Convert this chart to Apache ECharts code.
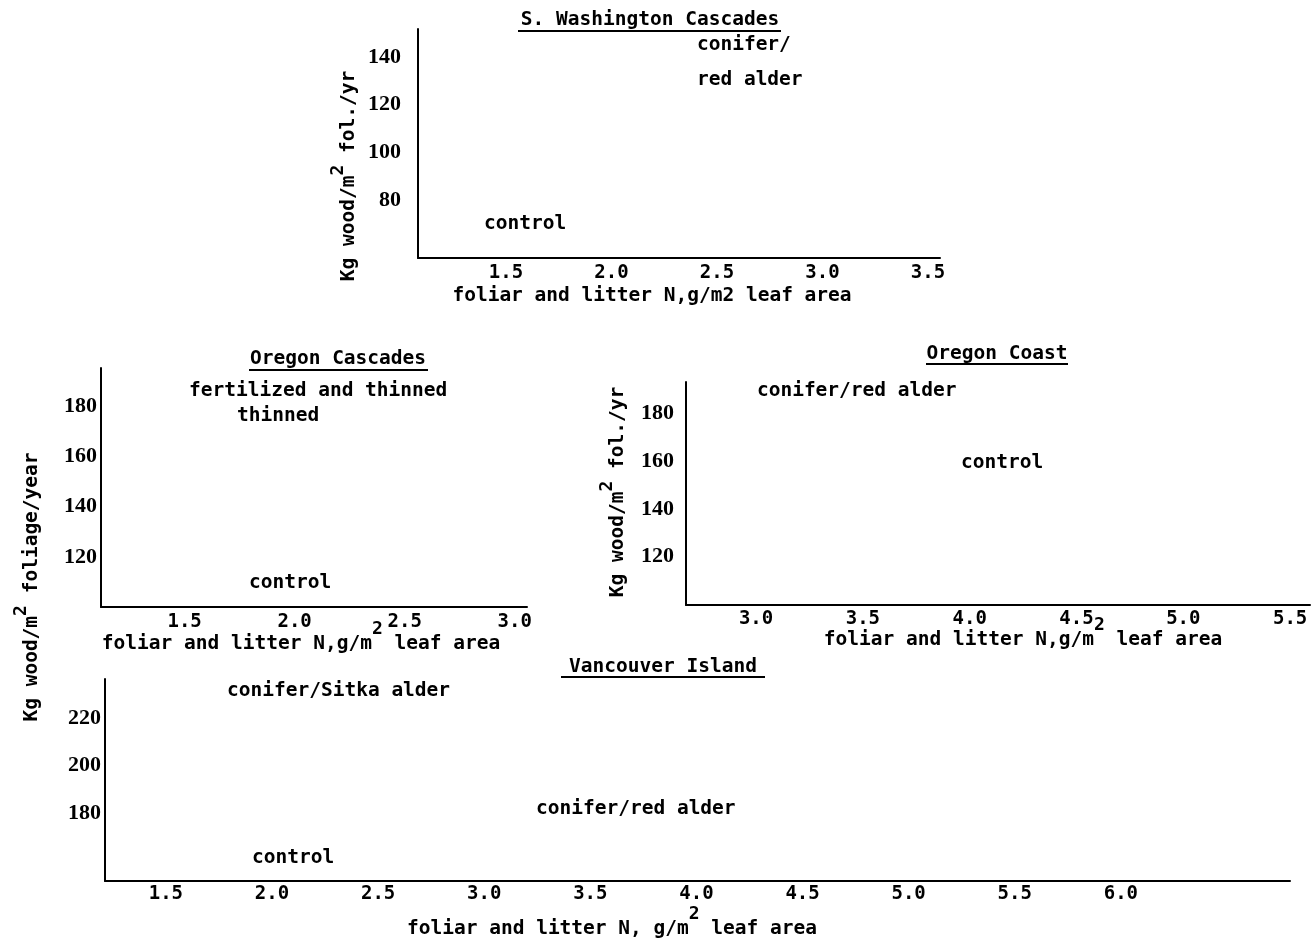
<!DOCTYPE html>
<html><head><meta charset="utf-8">
<script src="https://cdn.jsdelivr.net/npm/echarts@6/dist/echarts.min.js"></script>
<style>html,body{margin:0;padding:0;background:#fff}#c{width:1312px;height:942px}</style>
</head><body><div id="c"></div>
<script>
// ---- data ----
const panelTitles = ['S. Washington Cascades', 'Oregon Cascades', 'Oregon Coast', 'Vancouver Island'];

const waTicksX = [1.5, 2.0, 2.5, 3.0, 3.5];
const waTicksY = [80, 100, 120, 140];
const waLabels = ['conifer/', 'red alder', 'control'];
const waX = [2.405, 2.405, 1.396];
const waY = [145.9, 131.2, 70.75];

const ocTicksX = [1.5, 2.0, 2.5, 3.0];
const ocTicksY = [120, 140, 160, 180];
const ocLabels = ['fertilized and thinned', 'thinned', 'control'];
const ocX = [1.52, 1.738, 1.793];
const ocY = [186.7, 176.7, 110.5];

const coTicksX = [3.0, 3.5, 4.0, 4.5, 5.0, 5.5];
const coTicksY = [120, 140, 160, 180];
const coLabels = ['conifer/red alder', 'control'];
const coX = [3.004, 3.959];
const coY = [190.2, 160.0];

const viTicksX = [1.5, 2.0, 2.5, 3.0, 3.5, 4.0, 4.5, 5.0, 5.5, 6.0];
const viTicksY = [180, 200, 220];
const viLabels = ['conifer/Sitka alder', 'conifer/red alder', 'control'];
const viX = [1.788, 3.244, 1.906];
const viY = [232.2, 182.6, 161.9];

// ---- styles ----
const MONO = "'DejaVu Sans Mono', 'Liberation Mono', monospace";
const NUMF = "'Liberation Serif', 'DejaVu Serif', serif";
const FS = 19.5;

const grids = [
  {left: 418, top: 29, width: 522, height: 229},
  {left: 101, top: 368, width: 426, height: 239},
  {left: 686, top: 382, width: 624, height: 223},
  {left: 105, top: 679, width: 1185, height: 202}
];
const xr = [[1.083, 3.557], [1.12, 3.056], [2.672, 5.593], [1.213, 6.797]];
const yr = [[55.65, 151.75], [100.2, 195], [99.8, 193.1], [151.4, 236.45]];
const xMargins = [6, 6, 5, 4];
const yMargins = [17, 4, 12, 4];
const xTicks = [waTicksX, ocTicksX, coTicksX, viTicksX];
const yTicks = [waTicksY, ocTicksY, coTicksY, viTicksY];

const axisLine = {show: true, onZero: false, lineStyle: {color: '#000', width: 2}};
const xAxes = grids.map((g, i) => ({
  type: 'value', gridIndex: i, min: xr[i][0], max: xr[i][1],
  axisLine, axisTick: {show: false}, splitLine: {show: false},
  axisLabel: {customValues: xTicks[i], formatter: v => v.toFixed(1), margin: xMargins[i],
    color: '#000', fontFamily: MONO, fontWeight: 'bold', fontSize: 19}
}));
const yAxes = grids.map((g, i) => ({
  type: 'value', gridIndex: i, min: yr[i][0], max: yr[i][1],
  axisLine, axisTick: {show: false}, splitLine: {show: false},
  axisLabel: {customValues: yTicks[i], formatter: v => String(v), margin: yMargins[i],
    color: '#000', fontFamily: NUMF, fontWeight: 'bold', fontSize: 22}
}));

function labelSeries(i, xs, ys, labels) {
  return {
    type: 'scatter', xAxisIndex: i, yAxisIndex: i, symbolSize: 0, silent: true,
    itemStyle: {opacity: 1},
    data: xs.map((x, k) => [x, ys[k], labels[k]]),
    label: {show: true, position: 'right', distance: 0, offset: [0, 2], formatter: p => p.data[2],
      opacity: 1, color: '#000', fontFamily: MONO, fontWeight: 'bold', fontSize: FS}
  };
}

const rich = {
  n: {fontFamily: MONO, fontWeight: 'bold', fontSize: FS, color: '#000'},
  s: {fontFamily: MONO, fontWeight: 'bold', fontSize: 18, color: '#000', padding: [0, 0, 30, 0]},
  r: {fontFamily: MONO, fontWeight: 'bold', fontSize: 18, color: '#000', padding: [0, 0, 22, 0]}
};
function txt(x, y, text, rot) {
  return {type: 'text', x, y, rotation: rot || 0, silent: true,
    style: {text, rich, fill: '#000', fontFamily: MONO, fontWeight: 'bold', fontSize: FS,
      align: 'center', verticalAlign: 'middle', textAlign: 'center', textVerticalAlign: 'middle'}};
}
function uline(x1, x2, y) {
  return {type: 'line', silent: true, shape: {x1, y1: y, x2, y2: y}, style: {stroke: '#000', lineWidth: 2}};
}

const graphic = [
  txt(650, 20, '{n|' + panelTitles[0] + '}'), uline(518, 781, 31),
  txt(338, 359, '{n|' + panelTitles[1] + '}'), uline(249, 428, 370),
  txt(997, 354, '{n|' + panelTitles[2] + '}'), uline(926, 1068, 364),
  txt(663, 667, '{n|' + panelTitles[3] + '}'), uline(561, 765, 677),
  txt(652, 296, '{n|foliar and litter N,g/m2 leaf area}'),
  txt(301, 644, '{n|foliar and litter N,g/m}{s|2}{n| leaf area}'),
  txt(1023, 640, '{n|foliar and litter N,g/m}{s|2}{n| leaf area}'),
  txt(612, 929, '{n|foliar and litter N, g/m}{s|2}{n| leaf area}'),
  txt(349, 176, '{n|Kg wood/m}{r|2}{n| fol./yr}', Math.PI / 2),
  txt(618, 492, '{n|Kg wood/m}{r|2}{n| fol./yr}', Math.PI / 2),
  txt(32, 587, '{n|Kg wood/m}{r|2}{n| foliage/year}', Math.PI / 2)
];

const chart = echarts.init(document.getElementById('c'), null, {renderer: 'canvas'});
chart.setOption({
  animation: false,
  backgroundColor: '#fff',
  grid: grids,
  xAxis: xAxes,
  yAxis: yAxes,
  series: [
    labelSeries(0, waX, waY, waLabels),
    labelSeries(1, ocX, ocY, ocLabels),
    labelSeries(2, coX, coY, coLabels),
    labelSeries(3, viX, viY, viLabels)
  ],
  graphic
});
</script></body></html>
